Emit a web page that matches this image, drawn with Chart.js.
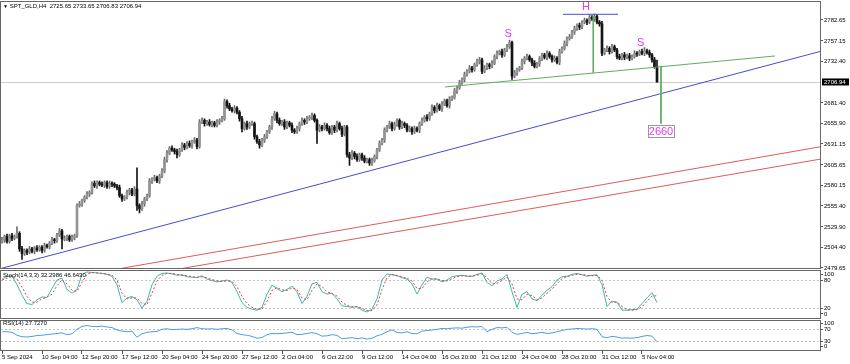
<!DOCTYPE html>
<html>
<head>
<meta charset="utf-8">
<script src="https://cdn.jsdelivr.net/npm/chart.js@4.4.1/dist/chart.umd.min.js"></script>
<style>
    body { margin: 0; background: #fff; }
    .wrap { position: relative; width: 850px; height: 364px; }
    .lbl { position: absolute; font: 6px "Liberation Sans", Arial, sans-serif; line-height: 8px; color: #000; white-space: pre; }
</style>
</head>
<body>
<div class="wrap">
    <canvas id="chart" width="850" height="364"></canvas>
    <div class="lbl" style="left:3px; top:2px;"><span style="font-size:5px;">▼</span> <span id="hdr"></span></div>
    <div class="lbl" style="left:3px; top:271px;" id="stochLbl"></div>
    <div class="lbl" style="left:3px; top:319px;" id="rsiLbl"></div>
</div>
<script>
// Data (H4 candles, bar index 0 = 5 Sep 2024)
const symbol = "SPT_GLD,H4";
const firstOpen = 2512;
const closes = [
    2514, 2518, 2512, 2519, 2516, 2518, 2522, 2503, 2497, 2501,
    2499, 2503, 2500, 2504, 2502, 2505, 2501, 2507, 2506, 2510,
    2514, 2513, 2520, 2525, 2515, 2516, 2518, 2514, 2517, 2519,
    2556, 2558, 2562, 2566, 2570, 2572, 2583, 2580, 2584, 2582,
    2581, 2584, 2579, 2583, 2582, 2580, 2578, 2568, 2564, 2566,
    2572, 2575, 2570, 2576, 2556, 2552, 2558, 2564, 2568, 2586,
    2588, 2590, 2586, 2592, 2598, 2612, 2620, 2626, 2624, 2622,
    2618, 2624, 2630, 2627, 2632, 2629, 2634, 2636, 2628, 2658,
    2660, 2656, 2658, 2655, 2657, 2654, 2658, 2660, 2662, 2683,
    2678, 2674, 2672, 2675, 2670, 2662, 2650, 2656, 2652, 2656,
    2656, 2640, 2634, 2630, 2636, 2640, 2646, 2652, 2662, 2668,
    2660, 2656, 2658, 2652, 2657, 2654, 2648, 2646, 2650, 2656,
    2660, 2658, 2662, 2664, 2666, 2660, 2648, 2652, 2650, 2654,
    2650, 2645, 2652, 2648, 2656, 2650, 2643, 2652, 2618, 2614,
    2620, 2616, 2612, 2618, 2614, 2610, 2612, 2608, 2611, 2616,
    2624, 2632, 2636, 2648, 2652, 2656, 2650, 2655, 2660, 2652,
    2656, 2654, 2648, 2650, 2646, 2650, 2648, 2656, 2660, 2664,
    2662, 2668, 2676, 2672, 2678, 2674, 2680, 2684, 2678, 2686,
    2688, 2696, 2700, 2706, 2710, 2716, 2720, 2724, 2722, 2728,
    2732, 2734, 2720, 2724, 2728, 2726, 2730, 2738, 2742, 2744,
    2740, 2746, 2750, 2755, 2714, 2718, 2722, 2724, 2732, 2736,
    2738, 2734, 2730, 2726, 2729, 2735, 2740, 2737, 2742, 2738,
    2734, 2736, 2731, 2744, 2748, 2754, 2760, 2762, 2768, 2772,
    2776, 2774, 2780, 2782, 2780, 2786, 2784, 2787, 2780, 2778,
    2742, 2746, 2748, 2744, 2750, 2746, 2738, 2736, 2740, 2737,
    2739, 2736, 2738, 2742, 2741, 2744, 2742, 2745, 2743, 2740,
    2734, 2725.65, 2706.94
];
// wick length above / below the body
const wickUp = [
    3, 2, 3, 2, 3, 2, 8, 2, 3, 2,  2, 3, 2, 2, 3, 2, 2, 3, 2, 2,
    3, 2, 2, 3, 2, 3, 2, 2, 3, 2,  2, 3, 2, 2, 3, 2, 2, 3, 2, 2,
    3, 2, 2, 3, 2, 2, 2, 3, 2, 2,  3, 2, 2, 3, 26, 2, 3, 2, 2, 3,
    2, 3, 2, 2, 3, 3, 3, 2, 3, 2,  3, 2, 3, 2, 2, 3, 2, 3, 2, 3,
    3, 2, 2, 3, 2, 2, 3, 2, 3, 3,  2, 3, 2, 3, 2, 2, 3, 2, 3, 2,
    3, 2, 2, 3, 2, 3, 2, 2, 3, 3,  2, 3, 2, 3, 2, 2, 3, 2, 3, 2,
    3, 2, 3, 2, 3, 2, 2, 3, 2, 3,  2, 3, 2, 2, 3, 2, 3, 2, 2, 3,
    3, 2, 3, 2, 2, 3, 2, 2, 3, 2,  2, 3, 2, 3, 2, 3, 2, 3, 2, 2,
    3, 2, 2, 3, 2, 3, 2, 2, 3, 2,  3, 2, 3, 2, 3, 2, 3, 2, 2, 3,
    2, 3, 2, 3, 2, 3, 2, 3, 2, 2,  3, 3, 2, 3, 2, 2, 3, 2, 3, 2,
    3, 2, 3, 3, 2, 3, 2, 2, 3, 2,  3, 2, 2, 3, 2, 3, 2, 2, 3, 2,
    2, 3, 2, 3, 2, 3, 2, 3, 2, 3,  2, 3, 2, 3, 2, 3, 2, 3, 2, 2,
    3, 2, 3, 2, 3, 2, 2, 3, 2, 3,  2, 3, 2, 3, 2, 2, 3, 4, 2, 3,
    2, 3, 8
];
const wickDn = [
    2, 3, 2, 2, 3, 2, 2, 3, 7, 2,  3, 2, 2, 3, 2, 2, 3, 2, 2, 3,
    2, 3, 2, 2, 12, 2, 3, 2, 2, 3,  2, 2, 3, 2, 2, 3, 2, 2, 3, 2,
    2, 3, 2, 2, 3, 2, 3, 2, 3, 2,  2, 3, 2, 2, 6, 5, 2, 3, 2, 2,
    3, 2, 2, 3, 2, 2, 3, 2, 2, 3,  4, 2, 2, 3, 2, 2, 3, 2, 3, 2,
    2, 3, 2, 2, 3, 2, 2, 3, 2, 2,  3, 2, 2, 3, 2, 3, 4, 2, 3, 2,
    2, 3, 2, 4, 2, 3, 2, 2, 3, 2,  3, 2, 2, 3, 2, 2, 3, 2, 2, 3,
    2, 3, 2, 2, 3, 2, 16, 2, 3, 2,  3, 2, 2, 3, 2, 2, 3, 2, 3, 9,
    2, 3, 2, 2, 3, 2, 2, 3, 3, 2,  3, 2, 2, 3, 2, 2, 3, 2, 2, 3,
    2, 3, 2, 2, 3, 2, 2, 3, 2, 2,  3, 2, 2, 3, 2, 2, 3, 2, 2, 3,
    2, 2, 3, 2, 2, 3, 2, 2, 3, 2,  2, 3, 3, 2, 2, 3, 2, 2, 3, 2,
    3, 2, 2, 2, 4, 2, 3, 2, 2, 3,  2, 2, 3, 2, 2, 3, 2, 2, 3, 2,
    3, 2, 2, 3, 2, 2, 3, 2, 2, 3,  2, 3, 2, 2, 3, 2, 2, 3, 2, 3,
    3, 2, 2, 3, 2, 2, 3, 2, 2, 3,  2, 3, 2, 2, 3, 2, 2, 3, 2, 3,
    3, 2, 0.11
];

// Indicators, one value every 2 bars
const indStep = 2;
const stochK = [
    82, 88, 89, 70, 48, 30, 28, 38, 44, 43, 62, 80, 84, 60, 52, 60, 92, 97, 96, 95,
    94, 92, 88, 70, 32, 42, 45, 38, 20, 35, 70, 88, 94, 95, 93, 90, 91, 87, 86, 85,
    89, 82, 79, 76, 78, 80, 75, 55, 32, 22, 18, 16, 22, 50, 69, 62, 55, 60, 67, 55,
    30, 45, 72, 75, 55, 50, 52, 40, 25, 24, 22, 24, 16, 12, 18, 40, 80, 93, 91, 89,
    85, 82, 72, 50, 70, 86, 82, 82, 76, 80, 87, 89, 90, 88, 88, 92, 95, 75, 68, 78,
    82, 92, 55, 22, 50, 55, 40, 36, 48, 58, 66, 80, 87, 88, 92, 94, 91, 88, 90, 91,
    70, 24, 35, 33, 16, 16, 17, 18, 30, 42, 53, 32.3
];
const stochD = [
    80, 84, 87, 82, 65, 45, 33, 33, 40, 44, 50, 68, 80, 72, 58, 56, 75, 92, 96, 95,
    94, 93, 90, 80, 52, 40, 42, 42, 30, 28, 52, 78, 90, 94, 94, 92, 90, 89, 87, 86,
    87, 85, 81, 78, 77, 78, 77, 66, 45, 30, 22, 18, 18, 35, 58, 64, 59, 58, 63, 60,
    42, 38, 58, 72, 66, 55, 51, 46, 33, 26, 23, 23, 20, 15, 15, 27, 60, 85, 92, 90,
    87, 84, 78, 62, 62, 76, 83, 82, 79, 78, 83, 87, 89, 89, 88, 90, 93, 85, 72, 73,
    79, 86, 72, 40, 38, 50, 47, 38, 42, 52, 61, 72, 83, 87, 90, 92, 92, 90, 89, 90,
    80, 45, 32, 33, 24, 17, 16, 17, 23, 35, 46, 46.6
];
const rsi = [
    62, 62, 60, 50, 45, 44, 46, 49, 50, 52, 54, 56, 58, 52, 55, 70, 80, 83, 80, 79,
    81, 78, 76, 68, 64, 62, 64, 43, 55, 60, 62, 63, 70, 72, 69, 70, 71, 70, 72, 76,
    72, 71, 72, 70, 72, 73, 68, 56, 52, 50, 46, 40, 42, 52, 56, 55, 56, 58, 60, 52,
    53, 56, 59, 55, 47, 48, 52, 50, 38, 40, 42, 38, 41, 37, 40, 48, 53, 62, 68, 60,
    58, 62, 56, 55, 64, 66, 68, 70, 73, 72, 74, 75, 74, 77, 79, 78, 80, 62, 70, 76,
    75, 77, 60, 53, 56, 60, 55, 57, 60, 56, 58, 62, 66, 70, 71, 73, 72, 71, 72, 70,
    45, 42, 46, 44, 40, 41, 40, 42, 46, 49, 47, 27.7
];
const stochText = "Stoch(14,3,3) 32.2986 46.6430";
const rsiText = "RSI(14) 27.7270";
const stochLevels = [80, 20];
const rsiLevels = [70, 30];

// Axis ticks
const tickIdx = [0, 16, 32, 48, 64, 80, 96, 112, 128, 144, 160, 176, 192, 208, 224, 240, 256];
const tickLabels = ["5 Sep 2024", "10 Sep 04:00", "12 Sep 20:00", "17 Sep 12:00", "20 Sep 04:00", "24 Sep 20:00", "27 Sep 12:00", "2 Oct 04:00", "6 Oct 22:00", "9 Oct 12:00", "14 Oct 04:00", "16 Oct 20:00", "21 Oct 12:00", "24 Oct 04:00", "28 Oct 20:00", "31 Oct 12:00", "5 Nov 04:00"];
const priceTicks = [2782.65, 2757.15, 2732.40, 2681.40, 2655.90, 2631.15, 2605.65, 2580.15, 2555.40, 2529.90, 2504.40, 2479.65];
const stochTicks = [100, 80, 20, 0];
const rsiTicks = [100, 70, 30, 0];
// sub-window labels are kept inside their window like the terminal does
const stochLabelRange = [8, 91];
const rsiLabelRange = [11, 91];

// Drawn objects (bar index, price)
const supportLine = [[-0.1, 2479.3], [327.6, 2744.5]];
const channelUpper = [[47.9, 2479.3], [327.6, 2627.9]];
const channelLower = [[72.4, 2479.3], [327.6, 2612.8]];
const neckline = [[177.2, 2700.8], [309.2, 2738.7]];
const headTop = [[224.4, 2789.6], [246.4, 2789.6]];
const headDrop = [[236.5, 2787.5], [236.5, 2718.3]];
const targetDrop = [[263.6, 2725.6], [263.6, 2656]];
const patternText = ["S", "H", "S"];
const patternAt = [[202.5, 2765], [233.6, 2798], [255.5, 2754]];
const targetText = "2660";
const targetAt = [263.6, 2647];

// Build candles
const opens = closes.map((c, i) => (i === 0 ? firstOpen : closes[i - 1]));
const highs = closes.map((c, i) => Math.max(opens[i], c) + wickUp[i]);
const lows = closes.map((c, i) => Math.min(opens[i], c) - wickDn[i]);
const last = closes.length - 1;
const bull = closes.map((c, i) => c >= opens[i]);

document.getElementById("hdr").textContent = symbol + "  " + [opens[last], highs[last], lows[last], closes[last]].map((v) => v.toFixed(2)).join(" ");
document.getElementById("stochLbl").textContent = stochText;
document.getElementById("rsiLbl").textContent = rsiText;

const pts = (arr) => arr.map((p) => ({ x: p[0], y: p[1] }));
const indPts = (arr) => arr.map((v, j) => ({ x: j * indStep, y: v }));
const clampTo = (v, r) => Math.min(Math.max(v, r[0]), r[1]);
const FONT = { family: "Liberation Sans", size: 6 };

const trend = (data, color) => ({
    type: "line",
    data: pts(data),
    borderColor: color,
    borderWidth: 1,
    pointRadius: 0,
    yAxisID: "y",
});

// Panels, level lines, labels
const panelPlugin = {
    id: "panels",
    afterLayout(chart) {
        // sub-window scales have no width of their own, let their labels show
        chart.scales.yStoch.right = chart.width;
        chart.scales.yRsi.right = chart.width;
    },
    beforeDatasetsDraw(chart) {
        const { ctx, chartArea: a, scales } = chart;
        ctx.save();
        ctx.lineWidth = 1;
        ctx.strokeStyle = "#c4c4c4";
        ctx.setLineDash([2, 2]);
        stochLevels.forEach((v) => {
            const y = Math.round(scales.yStoch.getPixelForValue(v)) + 0.5;
            ctx.beginPath(); ctx.moveTo(a.left, y); ctx.lineTo(a.right, y); ctx.stroke();
        });
        rsiLevels.forEach((v) => {
            const y = Math.round(scales.yRsi.getPixelForValue(v)) + 0.5;
            ctx.beginPath(); ctx.moveTo(a.left, y); ctx.lineTo(a.right, y); ctx.stroke();
        });
        ctx.setLineDash([]);
        ctx.strokeStyle = "#cfcfcf";
        const py = Math.round(scales.y.getPixelForValue(closes[last])) + 0.5;
        ctx.beginPath(); ctx.moveTo(a.left, py); ctx.lineTo(a.right, py); ctx.stroke();
        ctx.restore();
    },
    afterDatasetsDraw(chart) {
        const { ctx, chartArea: a, scales } = chart;
        const sx = scales.x, sy = scales.y;
        ctx.save();

        // panel frames
        ctx.fillStyle = "#fff";
        ctx.fillRect(a.left, 268.5, a.right - a.left, 2);
        ctx.fillRect(a.left, 318.5, a.right - a.left, 2);
        ctx.strokeStyle = "#666";
        ctx.lineWidth = 1;
        [[1.5, 268.5], [270.5, 318.5], [320.5, 350.5]].forEach((p) => {
            ctx.strokeRect(a.left - 0.5, p[0], a.right - a.left, p[1] - p[0]);
        });

        // pattern letters
        ctx.fillStyle = "#e83ae8";
        ctx.font = "11px 'Liberation Sans'";
        ctx.textAlign = "center";
        ctx.textBaseline = "middle";
        patternText.forEach((t, k) => {
            ctx.fillText(t, sx.getPixelForValue(patternAt[k][0]), sy.getPixelForValue(patternAt[k][1]));
        });

        // target box
        const tx = sx.getPixelForValue(targetAt[0]);
        const ty = sy.getPixelForValue(targetAt[1]);
        const tw = ctx.measureText(targetText).width + 2;
        ctx.fillStyle = "#fff";
        ctx.fillRect(tx - tw / 2, ty - 6, tw, 12);
        ctx.strokeStyle = "#999";
        ctx.strokeRect(Math.round(tx - tw / 2) + 0.5, Math.round(ty - 6) + 0.5, Math.round(tw), 12);
        ctx.fillStyle = "#e83ae8";
        ctx.fillText(targetText, tx, ty + 0.5);

        // current price box
        const cy = sy.getPixelForValue(closes[last]);
        ctx.fillStyle = "#000";
        ctx.fillRect(a.right + 1, cy - 3.5, 27, 7);
        ctx.fillStyle = "#fff";
        ctx.font = "6px 'Liberation Sans'";
        ctx.textAlign = "left";
        ctx.fillText(closes[last].toFixed(2), a.right + 3, cy);
        ctx.restore();
    },
};

// Chart
const chart = new Chart(document.getElementById("chart").getContext("2d"), {
    type: "bar",
    data: {
        datasets: [
            trend(headTop, "#4a4ad0"),
            trend(headDrop, "#5cae5c"),
            trend(targetDrop, "#5cae5c"),
            trend(neckline, "#5cae5c"),
            trend(supportLine, "#4a4ad0"),
            trend(channelUpper, "#e05a5a"),
            trend(channelLower, "#e05a5a"),
            {
                type: "line",
                data: indPts(stochD),
                borderColor: "#e04040",
                borderWidth: 1,
                borderDash: [2, 2],
                pointRadius: 0,
                yAxisID: "yStoch",
            },
            {
                type: "line",
                data: indPts(stochK),
                borderColor: "#3cb7b0",
                borderWidth: 1,
                pointRadius: 0,
                yAxisID: "yStoch",
            },
            {
                type: "line",
                data: indPts(rsi),
                borderColor: "#4a9ee8",
                borderWidth: 1,
                pointRadius: 0,
                yAxisID: "yRsi",
            },
            {
                data: closes.map((c, i) => ({ x: i, y: [opens[i], c] })),
                backgroundColor: bull.map((b) => (b ? "#949494" : "#141414")),
                barThickness: 2,
                minBarLength: 1,
                grouped: false,
                yAxisID: "y",
            },
            {
                data: closes.map((c, i) => ({ x: i, y: [lows[i], highs[i]] })),
                backgroundColor: bull.map((b) => (b ? "#6a6a6a" : "#141414")),
                barThickness: 1,
                grouped: false,
                yAxisID: "y",
            },
        ],
    },
    options: {
        responsive: false,
        animation: false,
        devicePixelRatio: 1,
        layout: { autoPadding: false, padding: { left: 1, top: 2, right: 0, bottom: 0 } },
        plugins: { legend: { display: false }, tooltip: { enabled: false } },
        scales: {
            x: {
                type: "linear",
                offset: false,
                min: -0.4,
                max: 327.6,
                afterBuildTicks: (s) => { s.ticks = tickIdx.map((v) => ({ value: v })); },
                afterFit: (s) => { s.height = 13; s.paddingLeft = 0; s.paddingRight = 0; },
                ticks: { font: FONT, color: "#000", align: "start", maxRotation: 0, autoSkip: false, padding: 0, callback: (v, i) => tickLabels[i] },
                grid: { drawOnChartArea: false, offset: false, tickLength: 3, color: "#555" },
                border: { display: false },
            },
            y: {
                position: "right",
                weight: 2,
                min: 2378.24,
                max: 2804.64,
                afterBuildTicks: (s) => { s.ticks = priceTicks.map((v) => ({ value: v })); },
                afterFit: (s) => { s.width = 29; s.paddingTop = 0; s.paddingBottom = 0; },
                ticks: { font: FONT, color: "#000", autoSkip: false, padding: 1, callback: (v) => v.toFixed(2) },
                grid: { drawOnChartArea: false, tickLength: 2, color: "#555" },
                border: { display: false },
            },
            yStoch: {
                position: "right",
                weight: 0,
                min: -70.7,
                max: 670.28,
                afterBuildTicks: (s) => { s.ticks = stochTicks.map((v) => ({ value: clampTo(v, stochLabelRange) })); },
                afterFit: (s) => { s.width = 0; s.paddingTop = 0; s.paddingBottom = 0; },
                ticks: { font: FONT, color: "#000", autoSkip: false, padding: 1, callback: (v, i) => String(stochTicks[i]) },
                grid: { drawOnChartArea: false, tickLength: 2, color: "#555" },
                border: { display: false },
            },
            yRsi: {
                position: "right",
                weight: 0,
                min: -3.39,
                max: 1179.66,
                afterBuildTicks: (s) => { s.ticks = rsiTicks.map((v) => ({ value: clampTo(v, rsiLabelRange) })); },
                afterFit: (s) => { s.width = 0; s.paddingTop = 0; s.paddingBottom = 0; },
                ticks: { font: FONT, color: "#000", autoSkip: false, padding: 1, callback: (v, i) => String(rsiTicks[i]) },
                grid: { drawOnChartArea: false, tickLength: 2, color: "#555" },
                border: { display: false },
            },
        },
    },
    plugins: [panelPlugin],
});
</script>
</body>
</html>
